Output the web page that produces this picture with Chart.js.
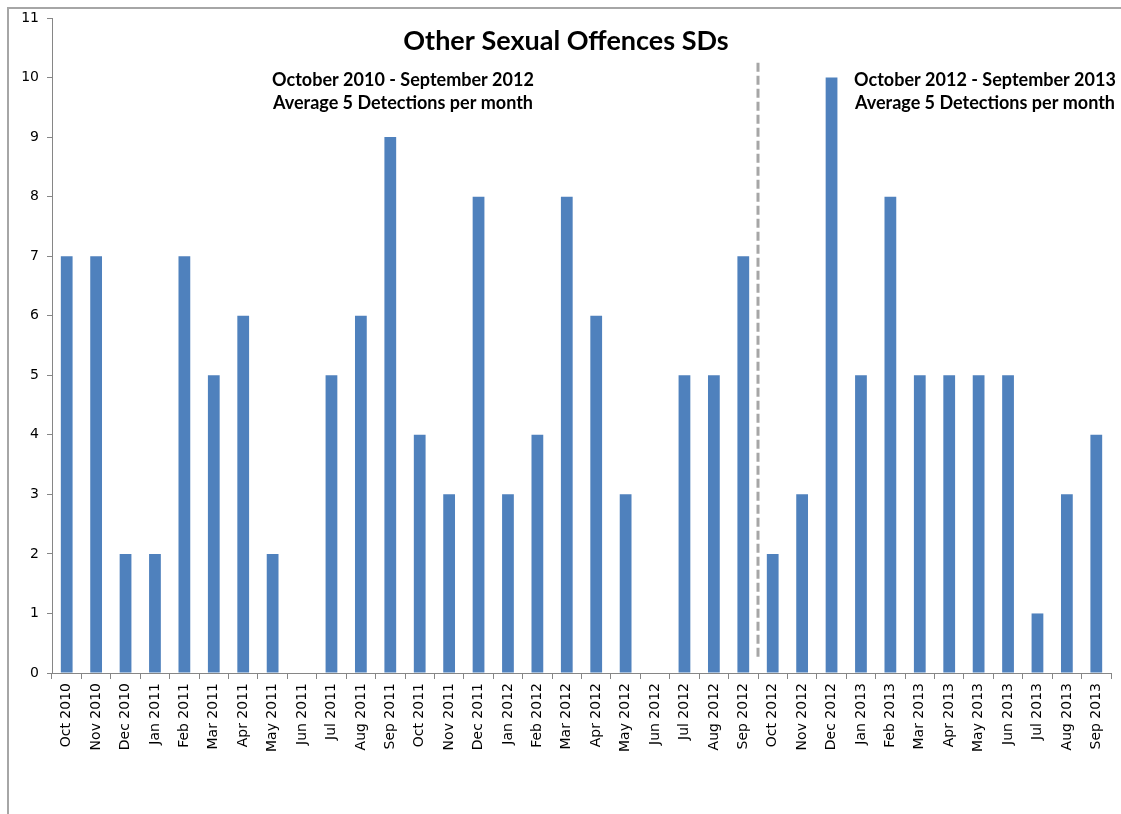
<!DOCTYPE html>
<html>
<head>
<meta charset="utf-8">
<script src="https://cdn.jsdelivr.net/npm/chart.js@4/dist/chart.umd.min.js"></script>
<style>
  html, body { margin: 0; padding: 0; background: #ffffff; }
  #wrap { width: 1121px; height: 814px; position: relative; }
</style>
</head>
<body>
<div id="wrap"><canvas id="c" width="1121" height="814"></canvas></div>
<script>
// Monthly detections, October 2010 to September 2013
const months = [
  'Oct 2010','Nov 2010','Dec 2010','Jan 2011','Feb 2011','Mar 2011','Apr 2011','May 2011','Jun 2011',
  'Jul 2011','Aug 2011','Sep 2011','Oct 2011','Nov 2011','Dec 2011','Jan 2012','Feb 2012','Mar 2012',
  'Apr 2012','May 2012','Jun 2012','Jul 2012','Aug 2012','Sep 2012','Oct 2012','Nov 2012','Dec 2012',
  'Jan 2013','Feb 2013','Mar 2013','Apr 2013','May 2013','Jun 2013','Jul 2013','Aug 2013','Sep 2013'
];
const detections = [
  7, 7, 2, 2, 7, 5, 6, 2, 0,
  5, 6, 9, 4, 3, 8, 3, 4, 8,
  6, 3, 0, 5, 5, 7, 2, 3, 10,
  5, 8, 5, 5, 5, 5, 1, 3, 4
];
const titleText = 'Other Sexual Offences SDs';
const periodNotes = [
  ['October 2010 - September 2012', 'Average 5 Detections per month'],
  ['October 2012 - September 2013', 'Average 5 Detections per month']
];
const splitAfter = 'Sep 2012';

const BOLD_FONT = 'Lato, "Open Sans", sans-serif';
const TICK_FONT = '"DejaVu Sans", Verdana, sans-serif';

// Outer frame, title, period split line and notes
const decorations = {
  id: 'decorations',
  beforeDraw(chart) {
    const ctx = chart.ctx;
    ctx.save();
    ctx.fillStyle = '#ffffff';
    ctx.fillRect(0, 0, chart.width, chart.height);
    ctx.strokeStyle = '#a6a6a6';
    ctx.lineWidth = 2;
    ctx.beginPath();
    ctx.moveTo(8, chart.height);
    ctx.lineTo(8, 8);
    ctx.lineTo(chart.width, 8);
    ctx.stroke();
    ctx.restore();
  },
  afterDatasetsDraw(chart) {
    const ctx = chart.ctx;
    const xs = chart.scales.x, ys = chart.scales.y;
    const i = months.indexOf(splitAfter);
    const splitX = (xs.getPixelForValue(i) + xs.getPixelForValue(i + 1)) / 2;

    ctx.save();
    ctx.strokeStyle = '#a6a6a6';
    ctx.lineWidth = 3;
    ctx.setLineDash([9, 4]);
    ctx.beginPath();
    ctx.moveTo(splitX, ys.getPixelForValue(10.25));
    ctx.lineTo(splitX, ys.getPixelForValue(0.27));
    ctx.stroke();
    ctx.setLineDash([]);

    ctx.fillStyle = '#000000';
    ctx.textAlign = 'center';
    ctx.textBaseline = 'middle';
    ctx.font = 'bold 27px ' + BOLD_FONT;
    ctx.fillText(titleText, 566, 41);

    ctx.font = 'bold 18px ' + BOLD_FONT;
    const centres = [403, 985];
    periodNotes.forEach((lines, k) => {
      ctx.fillText(lines[0], centres[k], 80);
      ctx.fillText(lines[1], centres[k], 103);
    });
    ctx.restore();
  }
};

new Chart(document.getElementById('c'), {
  type: 'bar',
  data: {
    labels: months,
    datasets: [{
      data: detections,
      backgroundColor: '#4f81bd',
      borderWidth: 0,
      barPercentage: 0.4,
      categoryPercentage: 1.0
    }]
  },
  options: {
    responsive: false,
    animation: false,
    devicePixelRatio: 1,
    layout: { padding: { left: 0, right: 10, top: 18, bottom: 0 } },
    plugins: {
      legend: { display: false },
      title: { display: false },
      tooltip: { enabled: false }
    },
    scales: {
      x: {
        offset: true,
        grid: {
          offset: true,
          drawOnChartArea: false,
          color: '#868686',
          tickLength: 6,
          tickColor: '#868686'
        },
        border: { color: '#868686', width: 1 },
        ticks: {
          autoSkip: false,
          minRotation: 90,
          maxRotation: 90,
          padding: 4,
          color: '#000000',
          font: { family: TICK_FONT, size: 14 }
        },
        afterFit(scale) { scale.height = 141; }
      },
      y: {
        min: 0,
        max: 11,
        grid: {
          drawOnChartArea: false,
          color: '#868686',
          tickLength: 5,
          tickColor: '#868686'
        },
        border: { color: '#868686', width: 1 },
        ticks: {
          stepSize: 1,
          padding: 8,
          color: '#000000',
          font: { family: TICK_FONT, size: 14 }
        },
        afterFit(scale) { scale.width = 52; }
      }
    }
  },
  plugins: [decorations]
});
</script>
</body>
</html>
